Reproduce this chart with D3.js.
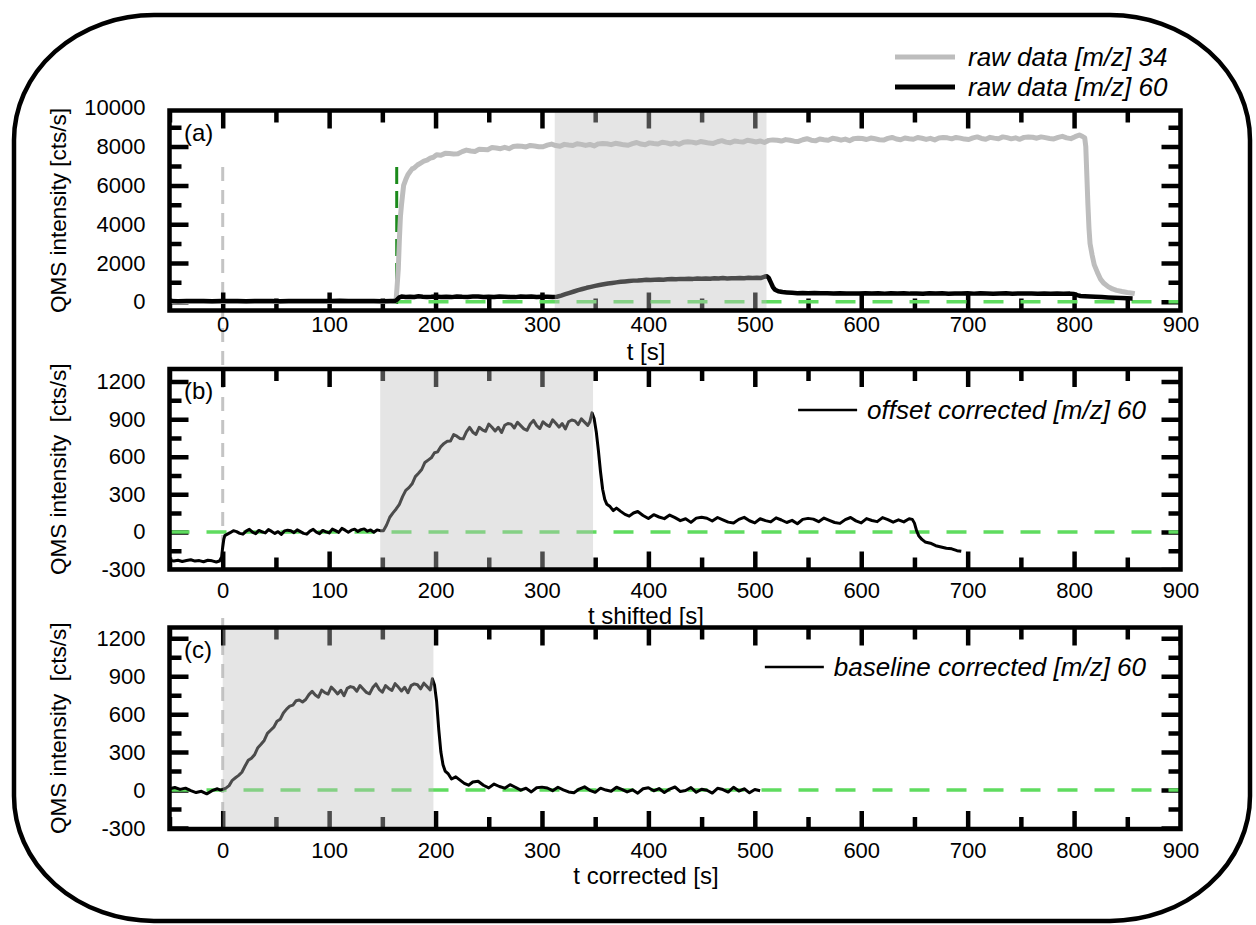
<!DOCTYPE html>
<meta charset="utf-8">

<!-- Load d3.js -->
<script src="https://d3js.org/d3.v7.min.js"></script>

<style>
  body { margin: 0; background: #fff; }
  text { font-family: "Liberation Sans", Arial, sans-serif; fill: #000; }
</style>

<div id="chart"></div>

<script>

// ---- data: [t (s), intensity (cts/s)] ----

// (a) raw m/z 34 (grey)
var rawM34 = [[-50,20],[0,20],[50,20],[100,20],[150,20],[162,30],[163,150],[164,900],[165,1700],[166,3200],[167,4400],[168,5000],[169,5500],[170,6000],[172,6300],[174,6550],[176,6700],[178,6850],[180,6900],[183,7050],[186,7150],[189,7250],[192,7300],[195,7400],[198,7450],[201,7580],[205,7550],[209,7650],[213,7640],[217,7620],[221,7630],[225,7740],[229,7820],[233,7770],[237,7750],[241,7860],[245,7850],[249,7840],[253,7950],[257,7930],[261,7890],[265,7960],[269,7890],[273,8000],[277,8030],[281,8020],[285,7980],[289,8060],[293,8030],[297,7990],[301,7990],[305,8075],[309,8130],[313,8055],[317,8020],[321,8115],[325,8080],[329,8055],[333,8150],[337,8115],[341,8060],[345,8110],[349,8035],[353,8140],[357,8160],[361,8145],[365,8100],[369,8170],[373,8135],[377,8090],[381,8070],[385,8155],[389,8210],[393,8130],[397,8095],[401,8190],[405,8155],[409,8130],[413,8225],[417,8190],[421,8135],[425,8190],[429,8115],[433,8220],[437,8245],[441,8230],[445,8185],[449,8260],[453,8225],[457,8180],[461,8165],[465,8250],[469,8305],[473,8230],[477,8195],[481,8290],[485,8255],[489,8230],[493,8325],[497,8290],[501,8235],[505,8290],[509,8215],[513,8320],[517,8345],[521,8330],[525,8285],[529,8360],[533,8325],[537,8280],[541,8265],[545,8350],[549,8405],[553,8330],[557,8295],[561,8390],[565,8355],[569,8330],[573,8425],[577,8390],[581,8330],[585,8385],[589,8305],[593,8410],[597,8430],[601,8415],[605,8365],[609,8440],[613,8400],[617,8355],[621,8335],[625,8420],[629,8470],[633,8390],[637,8355],[641,8445],[645,8405],[649,8380],[653,8470],[657,8430],[661,8370],[665,8425],[669,8345],[673,8445],[677,8470],[681,8450],[685,8400],[689,8470],[693,8435],[697,8385],[701,8365],[705,8450],[709,8500],[713,8420],[717,8380],[721,8475],[725,8435],[729,8405],[733,8500],[737,8460],[741,8400],[745,8450],[749,8375],[753,8475],[757,8495],[761,8480],[765,8430],[769,8500],[773,8460],[777,8415],[781,8395],[785,8475],[789,8530],[793,8450],[797,8410],[801,8510],[805,8600],[808,8520],[810,8450],[811,8000],[812,6500],[813,5000],[814,3800],[815,3000],[817,2400],[819,1900],[822,1500],[825,1150],[828,950],[832,780],[836,660],[840,590],[845,530],[850,480],[855,440],[857,420]];

// (a) raw m/z 60 (black)
var rawM60 = [[-50,40],[-42,32],[-34,45],[-26,36],[-18,42],[-10,30],[-2,44],[6,35],[14,41],[22,33],[30,46],[38,37],[46,42],[54,31],[62,44],[70,38],[78,45],[86,34],[94,40],[102,36],[110,47],[118,35],[126,42],[134,38],[142,45],[150,33],[158,41],[162,40],[164,120],[166,230],[168,270],[172,245],[176,262],[180,250],[184,280],[188,258],[192,245],[196,255],[200,275],[205,250],[210,262],[215,240],[220,270],[225,255],[230,250],[235,268],[240,275],[245,245],[250,258],[255,250],[260,275],[265,262],[270,250],[275,240],[280,268],[285,255],[290,270],[295,245],[300,255],[305,262],[310,250],[314,260],[318,320],[322,390],[326,460],[330,530],[334,600],[338,660],[342,720],[346,770],[350,820],[354,860],[358,900],[362,940],[366,970],[370,1000],[374,1030],[378,1050],[382,1070],[386,1090],[390,1100],[394,1115],[398,1130],[402,1125],[406,1140],[410,1150],[414,1140],[418,1160],[422,1170],[426,1160],[430,1180],[434,1170],[438,1190],[442,1180],[446,1195],[450,1185],[454,1205],[458,1190],[462,1210],[466,1200],[470,1220],[474,1205],[478,1215],[482,1210],[486,1225],[490,1215],[494,1235],[498,1220],[502,1240],[506,1230],[509,1290],[511,1320],[513,1240],[515,1000],[517,760],[519,620],[522,540],[526,500],[530,480],[535,460],[540,445],[545,455],[550,435],[556,450],[562,438],[568,445],[574,425],[580,440],[586,432],[592,420],[598,430],[604,440],[610,425],[616,445],[622,420],[628,435],[634,428],[640,440],[646,420],[652,430],[658,418],[664,435],[670,425],[676,440],[682,415],[688,430],[694,422],[700,435],[706,420],[712,440],[718,428],[724,415],[730,430],[736,435],[742,415],[748,430],[754,420],[760,425],[766,410],[772,430],[778,418],[784,425],[790,410],[796,420],[800,400],[803,340],[806,300],[810,285],[815,270],[820,255],[826,240],[832,225],[838,210],[844,195],[850,180],[855,170]];

// (b) offset corrected m/z 60
var offsetM60 = [[-50,-225],[-46,-232],[-42,-226],[-38,-236],[-34,-228],[-30,-222],[-26,-233],[-22,-229],[-18,-238],[-14,-226],[-10,-231],[-6,-240],[-3,-232],[-1,-200],[0,-120],[1,-60],[2,-30],[4,-20],[7,-6],[10,10],[13,2],[16,-12],[19,-18],[22,6],[25,20],[28,-2],[31,-14],[34,12],[37,0],[40,-8],[43,18],[46,4],[49,-12],[52,2],[55,-20],[58,8],[61,14],[64,10],[67,-6],[70,16],[73,2],[76,-12],[79,-18],[82,6],[85,20],[88,-2],[91,-14],[94,12],[97,0],[100,-8],[103,22],[106,10],[109,-4],[112,28],[115,14],[118,-2],[121,14],[124,22],[127,4],[130,18],[133,24],[136,6],[139,16],[142,-2],[145,16],[148,10],[151,10],[154,55],[157,117],[160,152],[163,183],[166,220],[169,281],[172,331],[175,353],[178,384],[181,441],[184,468],[187,498],[190,554],[193,573],[196,591],[199,632],[202,639],[205,681],[208,706],[211,723],[214,725],[217,777],[220,764],[223,746],[226,743],[229,799],[232,834],[235,796],[238,778],[241,835],[244,815],[247,803],[250,861],[253,835],[256,805],[259,835],[262,793],[265,851],[268,865],[271,860],[274,829],[277,875],[280,848],[283,822],[286,811],[289,861],[292,890],[295,848],[298,825],[301,879],[304,856],[307,841],[310,894],[313,867],[316,836],[319,865],[322,822],[325,879],[328,893],[331,886],[334,856],[337,902],[340,876],[343,850],[345,878],[347,950],[349,905],[351,800],[353,650],[355,480],[357,340],[359,260],[361,220],[364,202],[367,170],[370,190],[374,164],[378,140],[382,126],[386,151],[390,163],[395,131],[400,107],[405,137],[410,119],[415,106],[420,134],[425,114],[430,90],[435,105],[440,76],[445,110],[450,117],[455,109],[460,87],[465,115],[470,96],[475,78],[480,71],[485,100],[490,116],[495,89],[500,72],[505,105],[510,90],[515,80],[520,112],[525,95],[530,75],[535,92],[540,65],[545,100],[550,108],[555,102],[560,82],[565,110],[570,92],[575,75],[580,68],[585,98],[590,115],[595,88],[600,72],[605,106],[610,91],[615,82],[620,114],[625,98],[630,78],[635,96],[640,80],[645,105],[648,100],[650,70],[652,10],[654,-30],[657,-60],[660,-80],[665,-90],[670,-110],[675,-120],[680,-130],[685,-135],[690,-150],[694,-155]];

// (c) baseline corrected m/z 60
var baselineM60 = [[-50,10],[-45,20],[-40,5],[-35,15],[-30,-5],[-25,-20],[-20,-10],[-15,-30],[-10,-5],[-5,10],[-2,0],[0,5],[3,15],[6,35],[9,77],[12,97],[15,116],[18,141],[21,190],[24,235],[27,252],[30,280],[33,335],[36,362],[39,392],[42,448],[45,473],[48,497],[51,544],[54,559],[57,609],[60,640],[63,663],[66,671],[69,706],[72,712],[75,696],[78,716],[81,754],[84,780],[87,752],[90,734],[93,790],[96,770],[99,759],[102,814],[105,789],[108,760],[111,789],[114,746],[117,804],[120,818],[123,811],[126,781],[129,826],[132,799],[135,772],[138,761],[141,810],[144,839],[147,796],[150,773],[153,826],[156,803],[159,788],[162,841],[165,814],[168,783],[171,812],[174,769],[177,826],[180,839],[183,832],[186,800],[189,845],[192,818],[195,791],[197,880],[199,830],[201,700],[203,480],[205,300],[207,200],[209,150],[212,127],[215,87],[219,104],[223,78],[227,53],[231,38],[235,63],[240,70],[245,38],[250,17],[255,47],[260,28],[265,15],[270,42],[275,22],[280,-1],[285,14],[290,-15],[295,18],[300,23],[305,16],[310,-5],[315,22],[320,2],[325,-15],[330,-22],[335,8],[340,25],[345,-2],[350,-18],[355,15],[360,0],[365,-10],[370,22],[375,5],[380,-15],[385,2],[390,-25],[395,10],[400,18],[405,-6],[410,12],[415,-20],[420,8],[425,24],[430,-12],[435,-4],[440,20],[445,-18],[450,6],[455,-2],[460,-24],[465,14],[470,4],[475,-16],[480,22],[485,-8],[490,10],[495,-22],[500,4],[505,-5]];

// shaded integration windows
var shadeA = [312, 511];
var shadeB = [148, 348];
var shadeC = [0, 198];

// tick values
var xMajor = [0, 100, 200, 300, 400, 500, 600, 700, 800, 900];
var xMinor = [-50, 50, 150, 250, 350, 450, 550, 650, 750, 850];
var yMajorA = [0, 2000, 4000, 6000, 8000];
var yLabelsA = [0, 2000, 4000, 6000, 8000, 10000];
var yMinorA = [1000, 3000, 5000, 7000, 9000];
var yMajorBC = [-300, 0, 300, 600, 900, 1200];
var yMinorBC = [-150, 150, 450, 750, 1050];

// legend texts
var legendA = ["raw data [m/z] 34", "raw data [m/z] 60"];
var legendB = "offset corrected [m/z] 60";
var legendC = "baseline corrected [m/z] 60";

// ---- drawing ----

var svg = d3.select("#chart")
  .append("svg")
    .attr("width", 1256)
    .attr("height", 925);

// rounded outer border
svg.append("rect")
  .attr("x", 14).attr("y", 15)
  .attr("width", 1236).attr("height", 906)
  .attr("rx", 140).attr("ry", 125)
  .attr("fill", "none")
  .attr("stroke", "#000")
  .attr("stroke-width", 4.5);

var x = d3.scaleLinear()
  .domain([-50, 900])
  .range([169.5, 1180.5]);

var x0 = x.range()[0], x1 = x.range()[1];
var plain = function(d) { return String(d); };

// grey dashed t = 0 marker running across the panels
[[167, 569], [618, 829]].forEach(function(s) {
  svg.append("line")
    .attr("x1", x(0)).attr("x2", x(0))
    .attr("y1", s[0]).attr("y2", s[1])
    .attr("stroke", "#c4c4c4")
    .attr("stroke-width", 3)
    .attr("stroke-dasharray", "14,9");
});

function drawPanel(p) {
  var y = d3.scaleLinear()
    .domain(p.domain)
    .range([p.bottom, p.top]);

  var g = svg.append("g");

  g.append("clipPath").attr("id", "clip" + p.id)
    .append("rect")
      .attr("x", x0).attr("y", p.top)
      .attr("width", x1 - x0).attr("height", p.bottom - p.top);

  var ticks = g.append("g").attr("clip-path", "url(#clip" + p.id + ")");

  function tickAxis(axis, tr) {
    var a = ticks.append("g").attr("transform", tr).call(axis.tickFormat(""));
    a.select(".domain").remove();
    a.selectAll("line").attr("stroke", "#000").attr("stroke-width", 4.5);
  }
  tickAxis(d3.axisLeft(y).tickValues(p.major).tickSize(-19), "translate(" + x0 + ",0)");
  tickAxis(d3.axisLeft(y).tickValues(p.minor).tickSize(-12), "translate(" + x0 + ",0)");
  tickAxis(d3.axisRight(y).tickValues(p.major).tickSize(-19), "translate(" + x1 + ",0)");
  tickAxis(d3.axisRight(y).tickValues(p.minor).tickSize(-12), "translate(" + x1 + ",0)");
  tickAxis(d3.axisTop(x).tickValues(xMajor).tickSize(-18), "translate(0," + p.top + ")");
  tickAxis(d3.axisTop(x).tickValues(xMinor).tickSize(-12), "translate(0," + p.top + ")");
  tickAxis(d3.axisBottom(x).tickValues(xMajor).tickSize(-18), "translate(0," + p.bottom + ")");
  tickAxis(d3.axisBottom(x).tickValues(xMinor).tickSize(-12), "translate(0," + p.bottom + ")");

  // tick labels
  var yl = g.append("g")
    .attr("transform", "translate(" + x0 + ",0)")
    .call(d3.axisLeft(y).tickValues(p.labels).tickFormat(plain).tickSize(0).tickPadding(24));
  yl.select(".domain").remove();
  yl.selectAll("text").style("font-size", "22px").attr("fill", "#000");

  var xl = g.append("g")
    .attr("transform", "translate(0," + p.bottom + ")")
    .call(d3.axisBottom(x).tickValues(xMajor).tickFormat(plain).tickSize(0).tickPadding(p.xPad));
  xl.select(".domain").remove();
  xl.selectAll("text").style("font-size", "22px").attr("fill", "#000");

  var plot = g.append("g").attr("clip-path", "url(#clip" + p.id + ")");

  // zero reference
  plot.append("line")
    .attr("x1", x0).attr("x2", x1)
    .attr("y1", y(0)).attr("y2", y(0))
    .attr("stroke", "#5fdc5f")
    .attr("stroke-width", 3.5)
    .attr("stroke-dasharray", "20,17");

  if (p.onset) {
    plot.append("line")
      .attr("x1", x(p.onset)).attr("x2", x(p.onset))
      .attr("y1", 167).attr("y2", p.bottom)
      .attr("stroke", "#1b8a1b")
      .attr("stroke-width", 3)
      .attr("stroke-dasharray", "17,7");
  }

  var line = d3.line()
    .x(function(d) { return x(d[0]); })
    .y(function(d) { return y(d[1]); });

  p.series.forEach(function(s) {
    plot.append("path")
      .datum(s.data)
      .attr("d", line)
      .attr("fill", "none")
      .attr("stroke", s.color)
      .attr("stroke-width", s.width)
      .attr("stroke-linejoin", "round");
  });

  // shaded window
  g.append("rect")
    .attr("x", x(p.shade[0])).attr("width", x(p.shade[1]) - x(p.shade[0]))
    .attr("y", p.top).attr("height", p.bottom - p.top)
    .attr("fill", "#bebebe")
    .attr("fill-opacity", 0.4);

  // frame
  g.append("rect")
    .attr("x", x0).attr("y", p.top)
    .attr("width", x1 - x0).attr("height", p.bottom - p.top)
    .attr("fill", "none")
    .attr("stroke", "#000")
    .attr("stroke-width", 4.5);

  // panel letter
  g.append("text")
    .attr("x", 184).attr("y", p.top + 30)
    .style("font-size", "24px")
    .text(p.letter);

  // axis titles
  g.append("text")
    .attr("transform", "translate(58," + ((p.top + p.bottom) / 2) + ") rotate(-90)")
    .attr("dy", "0.35em")
    .attr("text-anchor", "middle")
    .style("font-size", "22.5px")
    .style("white-space", "pre")
    .text(p.yTitle);

  g.append("text")
    .attr("x", 646).attr("y", p.xTitleY)
    .attr("text-anchor", "middle")
    .style("font-size", "24px")
    .text(p.xTitle);

  return y;
}

drawPanel({
  id: "a", top: 110.5, bottom: 310.5, domain: [-450, 9860],
  major: yMajorA, labels: yLabelsA, minor: yMinorA,
  xPad: 6, shade: shadeA, onset: 163.5,
  series: [{data: rawM34, color: "#bdbdbd", width: 5},
           {data: rawM60, color: "#000", width: 4.5}],
  letter: "(a)",
  yTitle: "QMS intensity [cts/s]", xTitle: "t [s]", xTitleY: 360
});

drawPanel({
  id: "b", top: 369, bottom: 569.5, domain: [-300, 1300],
  major: yMajorBC, labels: yMajorBC, minor: yMinorBC,
  xPad: 13, shade: shadeB,
  series: [{data: offsetM60, color: "#000", width: 3}],
  letter: "(b)",
  yTitle: "QMS intensity  [cts/s]", xTitle: "t shifted [s]", xTitleY: 624
});

drawPanel({
  id: "c", top: 627.5, bottom: 829, domain: [-308, 1285],
  major: yMajorBC, labels: yMajorBC, minor: yMinorBC,
  xPad: 13, shade: shadeC,
  series: [{data: baselineM60, color: "#000", width: 3}],
  letter: "(c)",
  yTitle: "QMS intensity  [cts/s]", xTitle: "t corrected [s]", xTitleY: 884
});

// legends
var legA = svg.append("g");
legendA.forEach(function(label, i) {
  var ly = 57 + i * 30;
  legA.append("line")
    .attr("x1", 895).attr("x2", 955)
    .attr("y1", ly).attr("y2", ly)
    .attr("stroke", i == 0 ? "#bdbdbd" : "#000")
    .attr("stroke-width", 5);
  legA.append("text")
    .attr("x", 968).attr("y", ly + 9)
    .style("font-size", "26px")
    .style("font-style", "italic")
    .text(label);
});

[[legendB, 410], [legendC, 667]].forEach(function(l) {
  var t = svg.append("text")
    .attr("x", 1146).attr("y", l[1] + 9)
    .attr("text-anchor", "end")
    .style("font-size", "26px")
    .style("font-style", "italic")
    .text(l[0]);
  var w = t.node().getComputedTextLength();
  svg.append("line")
    .attr("x1", 1146 - w - 69).attr("x2", 1146 - w - 10)
    .attr("y1", l[1]).attr("y2", l[1])
    .attr("stroke", "#000")
    .attr("stroke-width", 2.5);
});

</script>
